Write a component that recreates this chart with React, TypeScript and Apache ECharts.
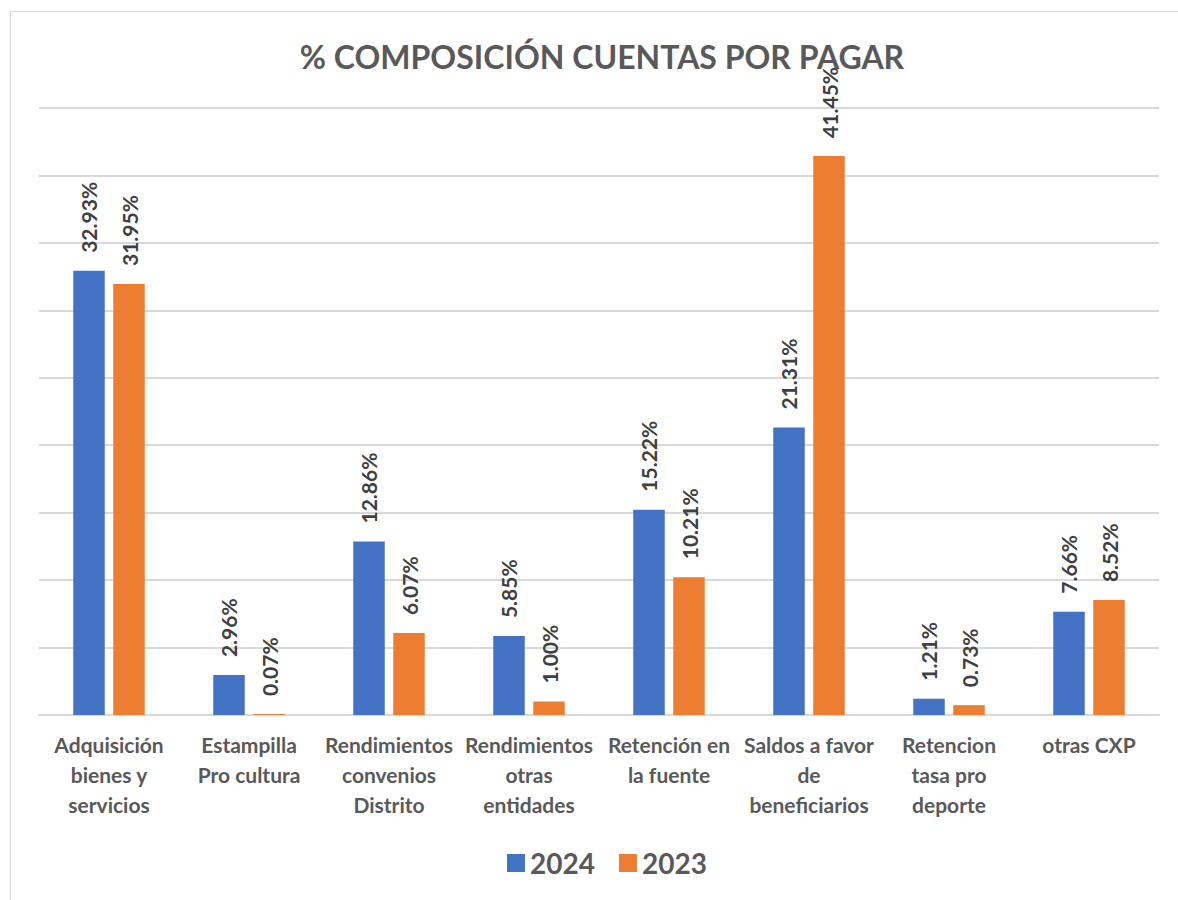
import React, { useEffect, useRef } from "react";
import * as echarts from "echarts";

const categories = [
  "Adquisición\nbienes y\nservicios",
  "Estampilla\nPro cultura",
  "Rendimientos\nconvenios\nDistrito",
  "Rendimientos\notras\nentidades",
  "Retención en\nla fuente",
  "Saldos a favor\nde\nbeneficiarios",
  "Retencion\ntasa pro\ndeporte",
  "otras CXP",
];
const values2024 = [32.93, 2.96, 12.86, 5.85, 15.22, 21.31, 1.21, 7.66];
const values2023 = [31.95, 0.07, 6.07, 1.0, 10.21, 41.45, 0.73, 8.52];
const seriesNames = ["2024", "2023"];
const title = "% COMPOSICIÓN CUENTAS POR PAGAR";

const FONT = "Lato, 'Open Sans', sans-serif";

export default function App() {
  const ref = useRef<HTMLDivElement>(null);
  useEffect(() => {
    if (!ref.current) return;
    const chart = echarts.init(ref.current, undefined, { renderer: "svg" });
    const label = {
      show: true,
      position: "top",
      rotate: 90,
      align: "left",
      verticalAlign: "middle",
      distance: 18,
      color: "#404040",
      fontWeight: "bold",
      fontSize: 21,
      fontFamily: FONT,
      formatter: (p: any) => p.value.toFixed(2) + "%",
    };
    chart.setOption({
      animation: false,
      backgroundColor: "#ffffff",
      graphic: [
        {
          type: "rect",
          shape: { x: 10.5, y: 11.5, width: 1300, height: 1000 },
          style: { fill: "none", stroke: "#d9d9d9", lineWidth: 1 },
          silent: true,
        },
      ],
      title: {
        text: title,
        left: 597,
        textAlign: "center",
        top: 35,
        textStyle: {
          color: "#595959",
          fontWeight: "bold",
          fontSize: 32,
          fontFamily: FONT,
        },
      },
      legend: {
        bottom: 18,
        left: 502,
        itemWidth: 18,
        itemHeight: 18,
        itemGap: 24,
        icon: "rect",
        textStyle: {
          color: "#595959",
          fontWeight: "bold",
          fontSize: 28,
          fontFamily: FONT,
        },
        data: seriesNames,
      },
      grid: { left: 39, right: 19, top: 108, bottom: 185, containLabel: false },
      xAxis: {
        type: "category",
        data: categories,
        axisLine: { lineStyle: { color: "#d9d9d9", width: 2 } },
        axisTick: { show: false },
        axisLabel: {
          interval: 0,
          margin: 14,
          color: "#595959",
          fontWeight: "bold",
          fontSize: 21,
          lineHeight: 30,
          fontFamily: FONT,
        },
      },
      yAxis: {
        type: "value",
        min: 0,
        max: 45,
        interval: 5,
        axisLabel: { show: false },
        axisLine: { show: false },
        axisTick: { show: false },
        splitLine: { lineStyle: { color: "#d9d9d9", width: 2 } },
      },
      series: [
        {
          name: seriesNames[0],
          type: "bar",
          data: values2024,
          itemStyle: { color: "#4472C4" },
          barWidth: "22.5%",
          barGap: "27%",
          label,
        },
        {
          name: seriesNames[1],
          type: "bar",
          data: values2023,
          itemStyle: { color: "#ED7D31" },
          barWidth: "22.5%",
          label,
        },
      ],
    });
    return () => chart.dispose();
  }, []);
  return (
    <div
      ref={ref}
      style={{ position: "absolute", left: 0, top: 0, width: 1178, height: 900 }}
    />
  );
}
